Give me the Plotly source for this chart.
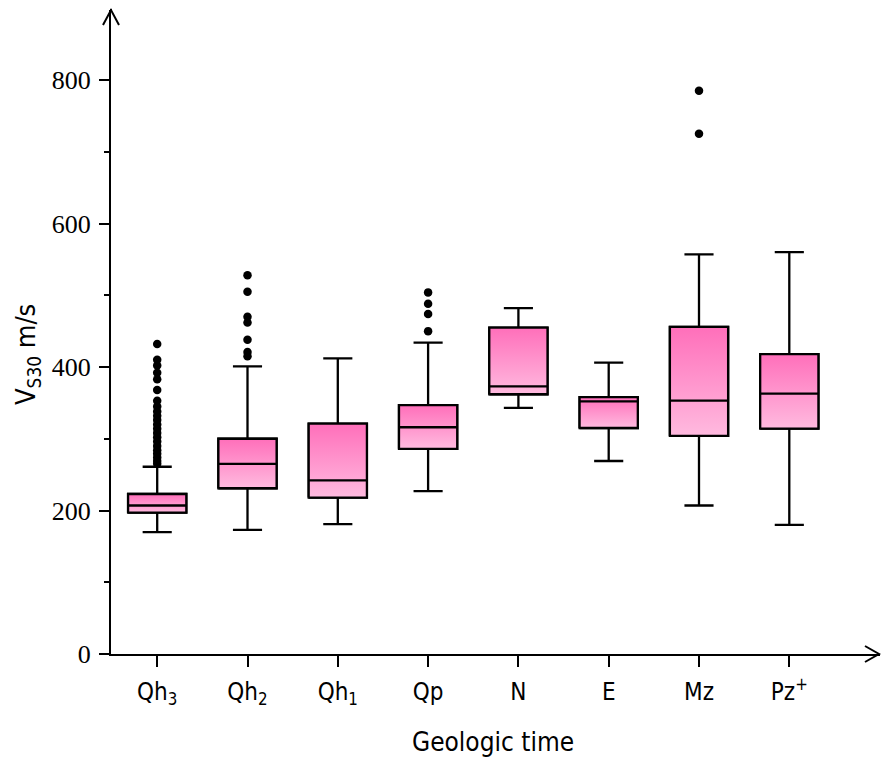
import plotly.graph_objects as go

categories = ["Qh3", "Qh2", "Qh1", "Qp", "N", "E", "Mz", "Pz+"]
tick_labels = ["Qh<sub>3</sub>", "Qh<sub>2</sub>", "Qh<sub>1</sub>", "Qp", "N", "E", "Mz", "Pz<sup>+</sup>"]
lower_whisker = [170, 173, 181, 227, 343, 269, 207, 180]
q1 = [197, 231, 218, 286, 362, 315, 304, 314]
median = [207, 265, 242, 316, 373, 352, 353, 363]
q3 = [223, 300, 321, 347, 455, 358, 456, 418]
upper_whisker = [261, 401, 412, 434, 482, 406, 557, 560]
outliers = [
    [432, 410, 402, 392, 383, 368, 353, 345, 338, 332, 326, 320, 314, 308, 302, 296, 290, 284, 279, 274, 269, 265],
    [528, 505, 470, 462, 438, 421, 415],
    [],
    [504, 488, 474, 450],
    [],
    [],
    [785, 725],
    [],
]
y_ticks = [0, 200, 400, 600, 800]

TOP = "#ff6fba"
BOTTOM = "#ffbadf"
BOXW = 0.645
LW = 2.3

# layout geometry (pixels)
W, H = 881, 758
ML, MR, MT, MB = 111, 1, 10, 104
plot_w = W - ML - MR
plot_h = H - MT - MB
px_per_cat = 90.3
x0 = -(157.2 - ML) / px_per_cat
x_range = [x0, x0 + plot_w / px_per_cat]
y_range = [0, plot_h / 0.7175]

fig = go.Figure()

# whiskers (box traces; box body is covered by the gradient fills below)
for i in range(len(categories)):
    fig.add_trace(go.Box(
        x=[i], q1=[q1[i]], median=[median[i]], q3=[q3[i]],
        lowerfence=[lower_whisker[i]], upperfence=[upper_whisker[i]],
        width=BOXW, whiskerwidth=0.5,
        fillcolor="rgba(0,0,0,0)", line=dict(color="black", width=LW),
        showlegend=False, name=categories[i], hoverinfo="skip",
    ))

# gradient-filled box bodies with outlines
for i in range(len(categories)):
    xl, xr = i - BOXW / 2, i + BOXW / 2
    fig.add_trace(go.Scatter(
        x=[xl, xr, xr, xl, xl], y=[q1[i], q1[i], q3[i], q3[i], q1[i]],
        mode="lines", line=dict(width=LW, color="black"), fill="toself",
        fillgradient=dict(type="vertical", colorscale=[[0, BOTTOM], [1, TOP]]),
        hoverinfo="skip", showlegend=False,
    ))
    fig.add_trace(go.Scatter(
        x=[xl, xr], y=[median[i], median[i]], mode="lines",
        line=dict(width=LW, color="black"), hoverinfo="skip", showlegend=False,
    ))

# outliers
for i in range(len(categories)):
    if outliers[i]:
        fig.add_trace(go.Scatter(
            x=[i] * len(outliers[i]), y=outliers[i], mode="markers",
            marker=dict(color="black", size=8.5), showlegend=False,
        ))

def px_to_paper_x(px):
    return (px - ML) / plot_w

def px_to_paper_y(py):
    return (H - MB - py) / plot_h

shapes = []
# top arrow (open chevron)
shapes.append(dict(type="line", xref="paper", yref="paper",
                   x0=0, y0=1, x1=0, y1=px_to_paper_y(MT - 1),
                   line=dict(color="black", width=2)))
shapes.append(dict(type="path", xref="paper", yref="paper",
                   path=f"M {px_to_paper_x(ML-8)},{px_to_paper_y(MT+15)} L {px_to_paper_x(ML)},{px_to_paper_y(MT)} L {px_to_paper_x(ML+8)},{px_to_paper_y(MT+15)}",
                   line=dict(color="black", width=2)))
# right arrow
shapes.append(dict(type="path", xref="paper", yref="paper",
                   path=f"M {px_to_paper_x(W-MR-15)},{px_to_paper_y(H-MB-8)} L {px_to_paper_x(W-MR-1)},{px_to_paper_y(H-MB)} L {px_to_paper_x(W-MR-15)},{px_to_paper_y(H-MB+8)}",
                   line=dict(color="black", width=2)))

sans = "DejaVu Sans Condensed, Liberation Sans Narrow, Liberation Sans, Arial, sans-serif"

fig.update_layout(
    width=W, height=H,
    margin=dict(l=ML, r=MR, t=MT, b=MB, autoexpand=False),
    paper_bgcolor="white", plot_bgcolor="white",
    boxmode="overlay",
    shapes=shapes,
    xaxis=dict(
        range=x_range, tickmode="array", tickvals=list(range(len(categories))),
        ticktext=tick_labels, showgrid=False, zeroline=False,
        showline=True, linecolor="black", linewidth=2,
        ticks="outside", ticklen=11, tickwidth=2, tickcolor="black",
        tickfont=dict(family=sans, size=24, color="black"),
        ticklabelstandoff=4,
    ),
    yaxis=dict(
        range=y_range, tickmode="array", tickvals=y_ticks,
        showgrid=False, zeroline=False,
        showline=True, linecolor="black", linewidth=2,
        ticks="outside", ticklen=10, tickwidth=2, tickcolor="black",
        tickfont=dict(family="Liberation Serif, Times New Roman, serif", size=26, color="black"),
        ticklabelstandoff=3,
        minor=dict(tickmode="array", tickvals=[100, 300, 500, 700], ticks="outside", ticklen=5, tickwidth=2, tickcolor="black"),
    ),
    annotations=[
        dict(text="Geologic time", xref="paper", yref="paper",
             x=px_to_paper_x(493), y=px_to_paper_y(742), showarrow=False,
             xanchor="center", yanchor="middle",
             font=dict(family=sans, size=26, color="black")),
        dict(text="V<sub>S30</sub> m/s", xref="paper", yref="paper",
             x=px_to_paper_x(27), y=px_to_paper_y(355), showarrow=False,
             xanchor="center", yanchor="middle", textangle=-90,
             font=dict(family=sans, size=27, color="black")),
    ],
)

fig.write_html("out.html", config={"displayModeBar": False},
               post_script="document.body.style.margin='0';")
